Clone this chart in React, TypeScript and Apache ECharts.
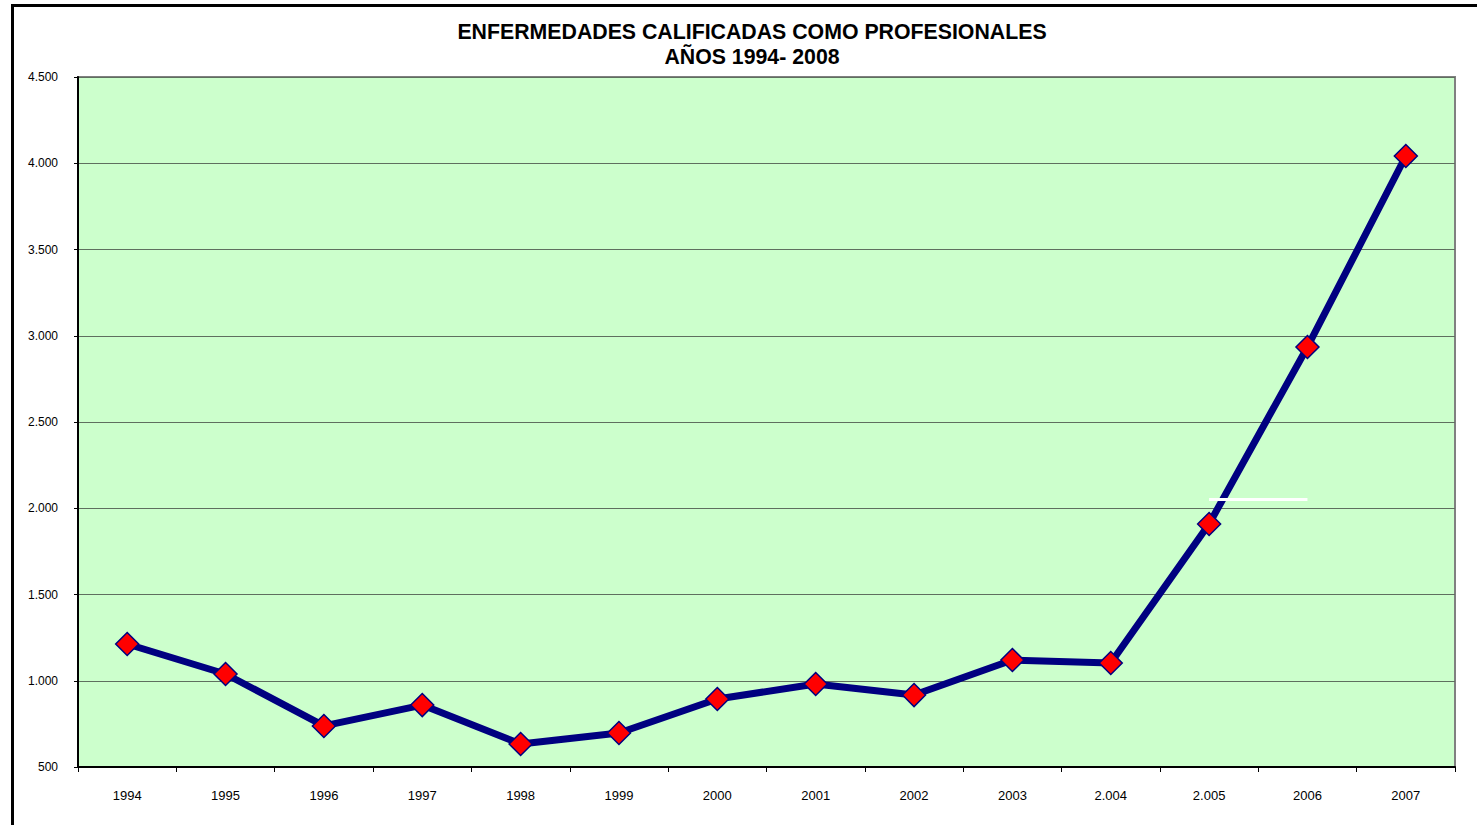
import React, { useEffect, useRef } from "react";
import * as echarts from "echarts";

const categories = ["1994", "1995", "1996", "1997", "1998", "1999", "2000", "2001", "2002", "2003", "2.004", "2.005", "2006", "2007"];
const values = [1213, 1039, 738, 859, 633, 697, 894, 981, 917, 1120, 1103, 1909, 2935, 4042];
const titleLines = ["ENFERMEDADES CALIFICADAS COMO PROFESIONALES", "AÑOS 1994- 2008"];
const whiteMarkFrom = "2.005";
const whiteMarkTo = "2006";
const whiteMarkValue = 2050;

function fmt(v: number): string {
  return String(v).replace(/\B(?=(\d{3})+(?!\d))/g, ".");
}

export default function App() {
  const ref = useRef<HTMLDivElement>(null);
  useEffect(() => {
    document.body.style.margin = "0";
    if (!ref.current) return;
    const chart = echarts.init(ref.current, undefined, { renderer: "svg" });
    chart.setOption({
      animation: false,
      backgroundColor: "#ffffff",
      title: {
        text: titleLines.join("\n"),
        left: 747,
        top: 14,
        textAlign: "center",
        textStyle: {
          fontFamily: "Liberation Sans, Arial, sans-serif",
          fontWeight: "bold",
          fontSize: 21.3,
          lineHeight: 25,
          color: "#000",
        },
      },
      graphic: [
        {
          type: "rect",
          shape: { x: 12.5, y: 5.5, width: 3000, height: 3000 },
          style: { fill: "none", stroke: "#000", lineWidth: 3 },
          silent: true,
        },
      ],
      grid: {
        left: 78,
        top: 77,
        right: 1477 - 1455,
        bottom: 825 - 767,
        show: true,
        backgroundColor: "#ccffcc",
        borderColor: "#808080",
        borderWidth: 2,
        containLabel: false,
      },
      xAxis: {
        type: "category",
        data: categories,
        boundaryGap: true,
        axisLine: { show: true, lineStyle: { color: "#000", width: 2 } },
        axisTick: { show: true, length: 5, lineStyle: { color: "#000", width: 1 } },
        axisLabel: {
          margin: 22,
          fontFamily: "Liberation Sans, Arial, sans-serif",
          fontSize: 13,
          color: "#000",
          interval: 0,
        },
        splitLine: { show: false },
      },
      yAxis: {
        type: "value",
        min: 500,
        max: 4500,
        interval: 500,
        axisLine: { show: true, lineStyle: { color: "#000", width: 2 } },
        axisTick: { show: true, length: 4, lineStyle: { color: "#000", width: 1 } },
        axisLabel: {
          margin: 20,
          fontFamily: "Liberation Sans, Arial, sans-serif",
          fontSize: 12,
          color: "#000",
          formatter: (v: number) => fmt(v),
        },
        splitLine: { show: true, lineStyle: { color: "#5f6f5f", width: 1 } },
      },
      series: [
        {
          type: "line",
          data: values,
          lineStyle: { color: "#000080", width: 7 },
          symbol: "diamond",
          symbolSize: 23,
          itemStyle: { color: "#ff0000", borderColor: "#000080", borderWidth: 1.5 },
          z: 3,
          markLine: {
            silent: true,
            symbol: ["none", "none"],
            label: { show: false },
            lineStyle: { color: "#ffffff", width: 3, type: "solid" },
            data: [
              [
                { coord: [whiteMarkFrom, whiteMarkValue] },
                { coord: [whiteMarkTo, whiteMarkValue] },
              ],
            ],
          },
        },
      ],
    });
    return () => chart.dispose();
  }, []);
  return <div ref={ref} style={{ width: 1477, height: 825 }} />;
}
